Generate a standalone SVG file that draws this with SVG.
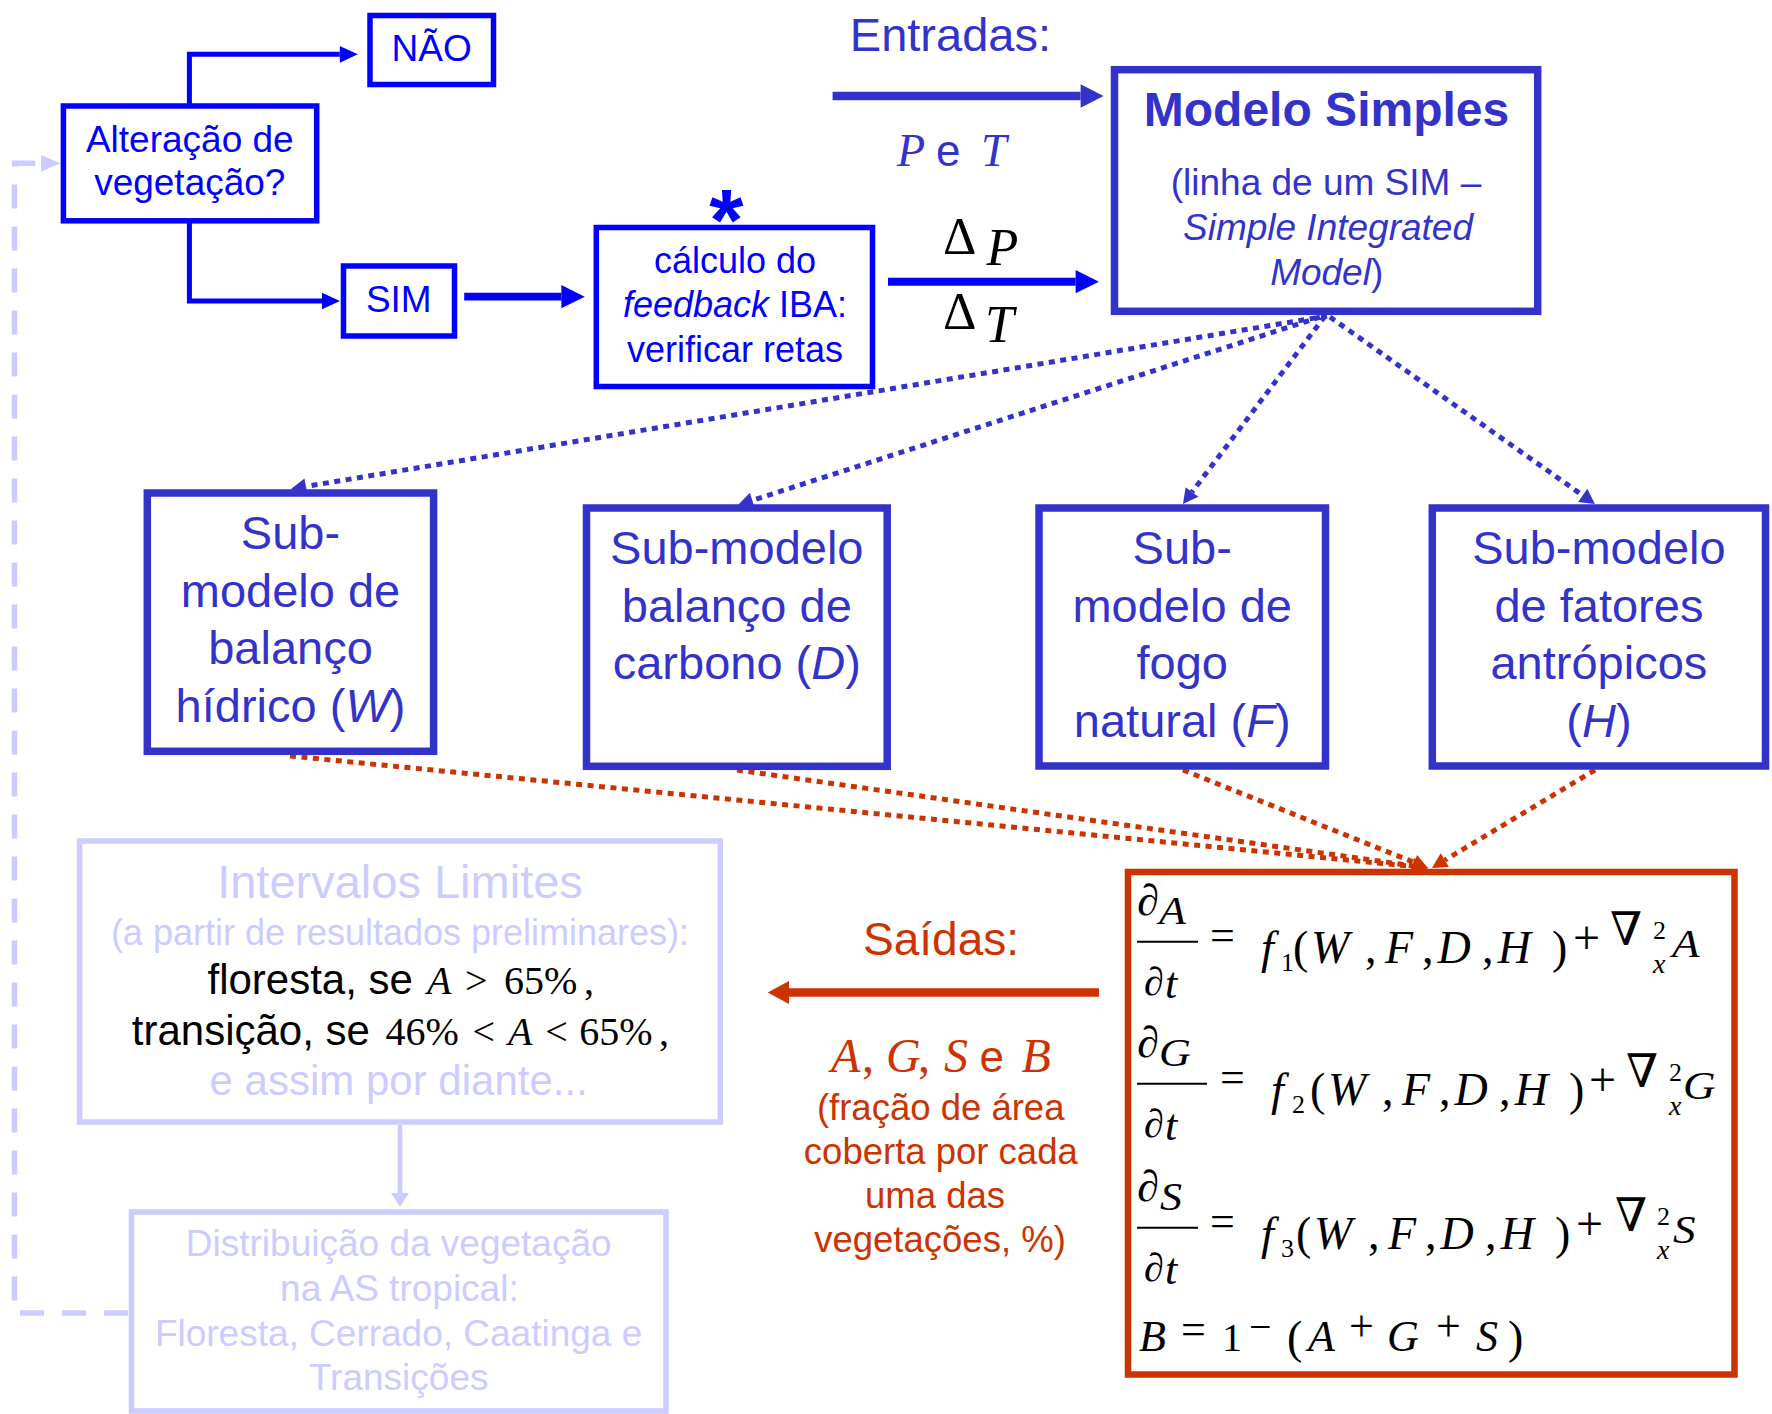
<svg xmlns="http://www.w3.org/2000/svg" width="1772" height="1414" viewBox="0 0 1772 1414">
<defs>
<style>
.s{font-family:'Liberation Sans',Arial,sans-serif}
.t{font-family:'Liberation Serif','Times New Roman',serif}
.nb{font-family:'DejaVu Serif','Liberation Serif',serif}
.i{font-style:italic}
.m{text-anchor:middle}
.b0{fill:#fff;stroke:#0000ff;stroke-width:5.5}
.b1{fill:#fff;stroke:#3333cc;stroke-width:7.5}
.b2{fill:#fff;stroke:#cc3300;stroke-width:6.5}
.b3{fill:#fff;stroke:#ccccff;stroke-width:5.5}
.c0{fill:#0000ff}
.c1{fill:#3333cc}
.c2{fill:#cc3300}
.c3{fill:#ccccff}
.k{fill:#000}
.dotB{stroke:#3333cc;stroke-width:5;stroke-dasharray:6 5.5;fill:none}
.dotR{stroke:#cc3300;stroke-width:5;stroke-dasharray:6 5.5;fill:none}
</style>
<marker id="mB" markerUnits="userSpaceOnUse" markerWidth="18" markerHeight="17" refX="0" refY="8.35" orient="auto" overflow="visible"><path d="M0,0 L18,8.35 L0,16.7 Z" fill="#0000ff"/></marker>
<marker id="mBT" markerUnits="userSpaceOnUse" markerWidth="24" markerHeight="24" refX="0" refY="11.65" orient="auto" overflow="visible"><path d="M0,0 L23.4,11.65 L0,23.3 Z" fill="#0000ff"/></marker>
<marker id="mMT" markerUnits="userSpaceOnUse" markerWidth="24" markerHeight="24" refX="0" refY="11.65" orient="auto" overflow="visible"><path d="M0,0 L23,11.65 L0,23.3 Z" fill="#3333cc"/></marker>
<marker id="mRT" markerUnits="userSpaceOnUse" markerWidth="22" markerHeight="23" refX="0" refY="11.5" orient="auto" overflow="visible"><path d="M0,0 L21.3,11.5 L0,23 Z" fill="#cc3300"/></marker>
<marker id="mL" markerUnits="userSpaceOnUse" markerWidth="20" markerHeight="17" refX="0" refY="8.35" orient="auto" overflow="visible"><path d="M0,0 L19.5,8.35 L0,16.7 Z" fill="#ccccff"/></marker>
<marker id="mLd" markerUnits="userSpaceOnUse" markerWidth="15" markerHeight="19" refX="0" refY="9" orient="auto" overflow="visible"><path d="M0,0 L14,9 L0,18 Z" fill="#ccccff"/></marker>
<marker id="mDB" markerUnits="userSpaceOnUse" markerWidth="16" markerHeight="17" refX="0" refY="8" orient="auto" overflow="visible"><path d="M0,0 L15,8 L0,16 Z" fill="#3333cc"/></marker>
<marker id="mDR" markerUnits="userSpaceOnUse" markerWidth="16" markerHeight="17" refX="0" refY="8" orient="auto" overflow="visible"><path d="M0,0 L15,8 L0,16 Z" fill="#cc3300"/></marker>
</defs>
<rect width="1772" height="1414" fill="#fff"/>

<g id="connectors">
<path d="M189.4,106 V54.3 H339.8" stroke="#0000ff" stroke-width="5" fill="none" marker-end="url(#mB)"/>
<path d="M189.4,221 V301 H322" stroke="#0000ff" stroke-width="5" fill="none" marker-end="url(#mB)"/>
<path d="M464.2,296.7 H561.4" stroke="#0000ff" stroke-width="7.7" fill="none" marker-end="url(#mBT)"/>
<path d="M888,281.7 H1075.6" stroke="#0000ff" stroke-width="8" fill="none" marker-end="url(#mBT)"/>
<path d="M832.6,96 H1080.6" stroke="#3333cc" stroke-width="8.3" fill="none" marker-end="url(#mMT)"/>
<path d="M1099,992.5 H789" stroke="#cc3300" stroke-width="8.5" fill="none" marker-end="url(#mRT)"/>
<path d="M400,1125 V1193" stroke="#ccccff" stroke-width="4.5" fill="none" marker-end="url(#mLd)"/>
<path d="M128,1313 H14.5 V163.3 H41" stroke="#ccccff" stroke-width="5.5" stroke-dasharray="24 18" fill="none" marker-end="url(#mL)"/>
<path class="dotB" d="M1327,316 L305.8,486.5" marker-end="url(#mDB)"/>
<path class="dotB" d="M1320,317 L752.3,500.4" marker-end="url(#mDB)"/>
<path class="dotB" d="M1325,316 L1192,492" marker-end="url(#mDB)"/>
<path class="dotB" d="M1330,317 L1582.7,495.4" marker-end="url(#mDB)"/>
<path class="dotR" d="M290,756 L1413.1,866.5" marker-end="url(#mDR)"/>
<path class="dotR" d="M737,770 L1413.1,865.9" marker-end="url(#mDR)"/>
<path class="dotR" d="M1183,770 L1414.1,862.4" marker-end="url(#mDR)"/>
<path class="dotR" d="M1595,770 L1444.8,860.2" marker-end="url(#mDR)"/>
</g>

<g id="n-nao">
<rect class="b0" x="370" y="15.5" width="123.5" height="69"/>
<text class="s c0 m" x="431.7" y="61" font-size="37">NÃO</text>
</g>
<g id="n-alteracao">
<rect class="b0" x="63.4" y="106" width="253.3" height="114.8"/>
<text class="s c0 m" font-size="37"><tspan x="189.8" y="151.7">Alteração de</tspan><tspan x="189.8" y="195">vegetação?</tspan></text>
</g>
<g id="n-sim">
<rect class="b0" x="343.5" y="266" width="111" height="70"/>
<text class="s c0 m" x="398.8" y="311.7" font-size="37">SIM</text>
</g>
<g id="n-calculo">
<rect class="b0" x="596.3" y="227.5" width="276.2" height="159"/>
<text class="s c0 m" font-size="36"><tspan x="735" y="272.7">cálculo do</tspan><tspan x="735" y="316.7"><tspan class="i">feedback</tspan> IBA:</tspan><tspan x="735" y="361.7">verificar retas</tspan></text>
</g>
<g id="n-modelo">
<rect class="b1" x="1114.5" y="69.7" width="423.2" height="241.6"/>
<text class="s c1 m" x="1326.5" y="126" font-size="48" font-weight="bold">Modelo Simples</text>
<text class="s c1 m" font-size="37"><tspan x="1326" y="195">(linha de um SIM –</tspan><tspan class="i" x="1328" y="240">Simple Integrated</tspan><tspan x="1326.7" y="285"><tspan class="i">Model</tspan>)</tspan></text>
</g>
<g id="n-w">
<rect class="b1" x="147.3" y="493" width="286.3" height="258.3"/>
<text class="s c1 m" font-size="47"><tspan x="290.5" y="549">Sub-</tspan><tspan x="290.5" y="606.7">modelo de</tspan><tspan x="290.5" y="664.3">balanço</tspan><tspan x="290.5" y="722.3">hídrico (<tspan class="i">W</tspan>)</tspan></text>
</g>
<g id="n-d">
<rect class="b1" x="586.5" y="508" width="300.7" height="258.3"/>
<text class="s c1 m" font-size="47"><tspan x="736.8" y="564.3">Sub-modelo</tspan><tspan x="736.8" y="621.7">balanço de</tspan><tspan x="736.8" y="679.3">carbono (<tspan class="i">D</tspan>)</tspan></text>
</g>
<g id="n-f">
<rect class="b1" x="1039" y="508" width="286.5" height="258"/>
<text class="s c1 m" font-size="47"><tspan x="1182.2" y="564.3">Sub-</tspan><tspan x="1182.2" y="621.7">modelo de</tspan><tspan x="1182.2" y="679">fogo</tspan><tspan x="1182.2" y="736.7">natural (<tspan class="i">F</tspan>)</tspan></text>
</g>
<g id="n-h">
<rect class="b1" x="1432.3" y="508" width="333.2" height="258"/>
<text class="s c1 m" font-size="47"><tspan x="1598.9" y="564.3">Sub-modelo</tspan><tspan x="1598.9" y="621.7">de fatores</tspan><tspan x="1598.9" y="679">antrópicos</tspan><tspan x="1598.9" y="736.7">(<tspan class="i">H</tspan>)</tspan></text>
</g>

<g id="n-equacoes">
<rect class="b2" x="1128" y="872" width="606.5" height="502.5"/>
<g class="t k">
<text x="1137" y="915" font-size="44">∂</text>
<text class="i" transform="translate(1159 924) scale(1.1 1)" font-size="40">A</text>
<line x1="1137" y1="941.7" x2="1198" y2="941.7" stroke="#000" stroke-width="2"/>
<text x="1144" y="995" font-size="40">∂</text>
<text class="i" x="1165" y="998.3" font-size="44">t</text>
<text x="1210" y="949.5" font-size="44">=</text>
<text class="i" x="1261" y="963.3" font-size="46">f</text>
<text x="1281" y="971" font-size="26">1</text>
<text transform="translate(1293 963.3)" font-size="46"><tspan x="0">(</tspan><tspan class="i" x="18">W</tspan><tspan x="72">,</tspan><tspan class="i" x="92">F</tspan><tspan x="129">,</tspan><tspan class="i" x="144.4">D</tspan><tspan x="189">,</tspan><tspan class="i" x="204.7">H</tspan><tspan x="259">)</tspan></text>
<text x="1573" y="954" font-size="48">+</text>
<text class="nb" x="1610" y="945" font-size="46">∇</text>
<text x="1653" y="939" font-size="26">2</text>
<text class="i" x="1653" y="973" font-size="28">x</text>
<text class="i" transform="translate(1672 957) scale(1.1 1)" font-size="41">A</text>

<text x="1137" y="1057" font-size="44">∂</text>
<text class="i" transform="translate(1159 1066) scale(1.1 1)" font-size="40">G</text>
<line x1="1137" y1="1083.7" x2="1207" y2="1083.7" stroke="#000" stroke-width="2"/>
<text x="1144" y="1137" font-size="40">∂</text>
<text class="i" x="1165" y="1140.3" font-size="44">t</text>
<text x="1220" y="1091.5" font-size="44">=</text>
<text class="i" x="1271" y="1105.3" font-size="46">f</text>
<text x="1292" y="1113" font-size="26">2</text>
<text transform="translate(1310 1105.3)" font-size="46"><tspan x="0">(</tspan><tspan class="i" x="18">W</tspan><tspan x="72">,</tspan><tspan class="i" x="92">F</tspan><tspan x="129">,</tspan><tspan class="i" x="144.4">D</tspan><tspan x="189">,</tspan><tspan class="i" x="204.7">H</tspan><tspan x="259">)</tspan></text>
<text x="1589" y="1096" font-size="48">+</text>
<text class="nb" x="1626" y="1087" font-size="46">∇</text>
<text x="1669" y="1081" font-size="26">2</text>
<text class="i" x="1669" y="1115" font-size="28">x</text>
<text class="i" transform="translate(1683 1099) scale(1.1 1)" font-size="41">G</text>

<text x="1137" y="1201" font-size="44">∂</text>
<text class="i" transform="translate(1160 1210) scale(1.1 1)" font-size="40">S</text>
<line x1="1137" y1="1227.7" x2="1198" y2="1227.7" stroke="#000" stroke-width="2"/>
<text x="1144" y="1281" font-size="40">∂</text>
<text class="i" x="1165" y="1284.3" font-size="44">t</text>
<text x="1210" y="1235.5" font-size="44">=</text>
<text class="i" x="1261" y="1249.3" font-size="46">f</text>
<text x="1281" y="1257" font-size="26">3</text>
<text transform="translate(1296 1249.3)" font-size="46"><tspan x="0">(</tspan><tspan class="i" x="18">W</tspan><tspan x="72">,</tspan><tspan class="i" x="92">F</tspan><tspan x="129">,</tspan><tspan class="i" x="144.4">D</tspan><tspan x="189">,</tspan><tspan class="i" x="204.7">H</tspan><tspan x="259">)</tspan></text>
<text x="1576" y="1240" font-size="48">+</text>
<text class="nb" x="1615" y="1231" font-size="46">∇</text>
<text x="1657" y="1225" font-size="26">2</text>
<text class="i" x="1657" y="1259" font-size="28">x</text>
<text class="i" transform="translate(1673 1243) scale(1.1 1)" font-size="41">S</text>

<text font-size="44"><tspan class="i" x="1139" y="1351">B</tspan><tspan x="1181" y="1343.5">=</tspan><tspan x="1222" y="1351" font-size="40">1</tspan><tspan x="1249" y="1340" font-size="40">−</tspan><tspan x="1287" y="1353" font-size="46">(</tspan><tspan class="i" x="1308" y="1351">A</tspan><tspan x="1349" y="1341">+</tspan><tspan class="i" x="1387" y="1351">G</tspan><tspan x="1436" y="1341">+</tspan><tspan class="i" x="1476" y="1351">S</tspan><tspan x="1508" y="1353" font-size="46">)</tspan></text>
</g>
</g>

<g id="n-intervalos">
<rect class="b3" x="79.5" y="841" width="640.8" height="281"/>
<text class="s c3 m" x="400" y="897.7" font-size="47">Intervalos Limites</text>
<text class="s c3 m" x="400" y="945" font-size="36">(a partir de resultados preliminares):</text>
<text class="k" y="994.2"><tspan class="s" x="207.5" font-size="42">floresta, se</tspan><tspan class="t i" x="427" font-size="40">A</tspan><tspan class="t" x="465" font-size="40">&gt;</tspan><tspan class="t" x="504" font-size="40">65%</tspan><tspan class="t" x="584" font-size="40">,</tspan></text>
<text class="k" y="1045.4"><tspan class="s" x="131.8" font-size="42">transição, se</tspan><tspan class="t" x="385.4" font-size="40">46%</tspan><tspan class="t" x="472.6" font-size="40">&lt;</tspan><tspan class="t i" x="508" font-size="40">A</tspan><tspan class="t" x="545.3" font-size="40">&lt;</tspan><tspan class="t" x="579.2" font-size="40">65%</tspan><tspan class="t" x="659" font-size="40">,</tspan></text>
<text class="s c3 m" x="398.7" y="1094.6" font-size="42">e assim por diante...</text>
</g>
<g id="n-distribuicao">
<rect class="b3" x="131.5" y="1212" width="534.5" height="199"/>
<text class="s c3 m" font-size="37"><tspan x="398.7" y="1255.6">Distribuição da vegetação</tspan><tspan x="399.4" y="1301">na AS tropical:</tspan><tspan x="398.6" y="1345.8">Floresta, Cerrado, Caatinga e</tspan><tspan x="398.7" y="1390">Transições</tspan></text>
</g>

<g id="labels">
<text class="s c1" x="849.8" y="50.7" font-size="47">Entradas:</text>
<text class="c1" y="165.7"><tspan class="t i" x="897" font-size="46">P</tspan><tspan class="s" x="936" font-size="44">e</tspan><tspan class="t i" x="981" font-size="46">T</tspan></text>
<text class="s c0 m" x="726.4" y="250" font-size="88" font-weight="bold">*</text>
<text class="t k" x="943" y="254" font-size="52">Δ</text>
<text class="t i k" x="986.5" y="265" font-size="52">P</text>
<text class="t k" x="943" y="329.3" font-size="52">Δ</text>
<text class="t i k" x="985" y="341.7" font-size="52">T</text>
<text class="s c2 m" x="941" y="955.4" font-size="46">Saídas:</text>
<text class="c2" y="1072"><tspan class="t i" x="831" font-size="48">A</tspan><tspan class="t" x="862" font-size="48">,</tspan><tspan class="t i" x="886" font-size="48">G</tspan><tspan class="t" x="918" font-size="48">,</tspan><tspan class="t i" x="944" font-size="48">S</tspan><tspan class="s" x="979.5" font-size="44">e</tspan><tspan class="t i" x="1021.5" font-size="48">B</tspan></text>
<text class="s c2 m" font-size="36.5"><tspan x="940.7" y="1119.7">(fração de área</tspan><tspan x="940.8" y="1164">coberta por cada</tspan><tspan x="935" y="1208">uma das</tspan><tspan x="940" y="1252">vegetações, %)</tspan></text>
</g>
</svg>
